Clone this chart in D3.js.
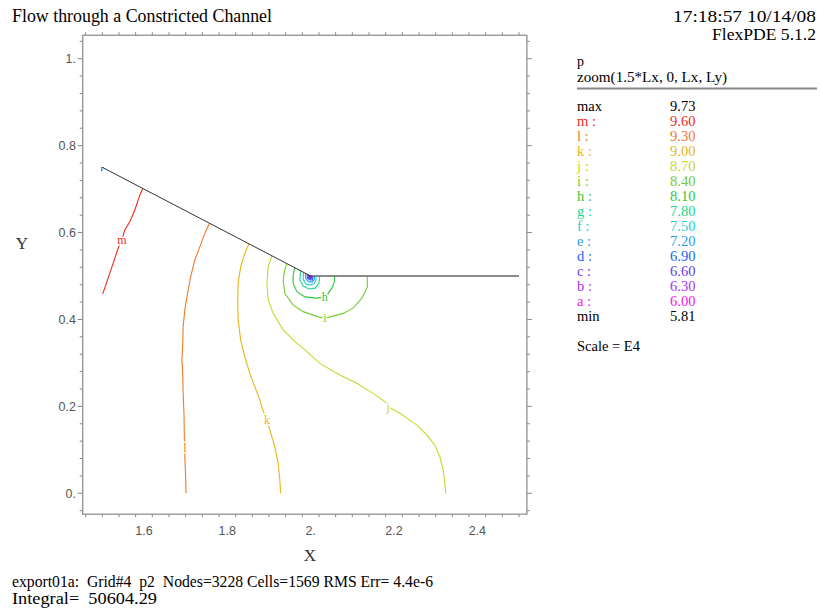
<!DOCTYPE html>
<html><head><meta charset="utf-8">
<script src="https://cdn.jsdelivr.net/npm/d3@7"></script>
<style>body{margin:0;background:#fff}svg{display:block}</style>
</head><body>
<svg id="c" width="820" height="615"></svg>
<script>
// ---------- data ----------
const levelKeys   = ["m","l","k","j","i","h","g","f","e","d","c","b","a"];
const levelValues = ["9.60","9.30","9.00","8.70","8.40","8.10","7.80","7.50","7.20","6.90","6.60","6.30","6.00"];
const levelColors = ["#f42a1c","#f07a2a","#e8b418","#c6d82a","#74cc30","#34c43a","#22d48e","#24cfd0","#2c9cf0","#2262ee","#6a3cf0","#a832f0","#f020ee"];
const maxValue = "9.73", minValue = "5.81";

const xTickValues = [1.6,1.8,2.0,2.2,2.4];
const xTickLabels = ["1.6","1.8","2.","2.2","2.4"];
const yTickValues = [0,0.2,0.4,0.6,0.8,1.0];
const yTickLabels = ["0.","0.2","0.4","0.6","0.8","1."];

const boundary = [[1.5,0.75],[2.0,0.5],[2.5,0.5]];

const contourM = [[1.597,0.7015],[1.590,0.686],[1.578,0.652],[1.566,0.625],[1.554,0.606],[1.547,0.583],[1.538,0.564],[1.526,0.529],[1.514,0.495],[1.501,0.459]];
const contourL = [[1.757,0.621],[1.746,0.598],[1.734,0.567],[1.722,0.537],[1.712,0.498],[1.703,0.452],[1.698,0.422],[1.694,0.383],[1.693,0.345],[1.691,0.307],[1.693,0.276],[1.694,0.230],[1.696,0.184],[1.697,0.123],[1.698,0.104],[1.698,0.084],[1.700,0.038],[1.701,0.0]];
const contourK = [[1.852,0.574],[1.842,0.552],[1.832,0.521],[1.826,0.483],[1.825,0.445],[1.826,0.399],[1.832,0.353],[1.842,0.314],[1.854,0.276],[1.866,0.245],[1.878,0.215],[1.885,0.192],[1.895,0.169],[1.902,0.146],[1.914,0.107],[1.922,0.069],[1.926,0.031],[1.928,0.0]];
const contourJ = [[1.907,0.5465],[1.898,0.521],[1.895,0.483],[1.898,0.445],[1.910,0.414],[1.934,0.376],[1.958,0.353],[1.991,0.326],[2.022,0.299],[2.070,0.272],[2.111,0.253],[2.150,0.230],[2.178,0.211],[2.186,0.199],[2.214,0.184],[2.231,0.173],[2.255,0.157],[2.279,0.134],[2.298,0.111],[2.310,0.084],[2.318,0.054],[2.322,0.023],[2.324,0.0]];
const contourI = [[1.943,0.5285],[1.938,0.514],[1.934,0.491],[1.938,0.460],[1.958,0.433],[1.982,0.418],[2.018,0.406],[2.034,0.403],[2.046,0.406],[2.078,0.414],[2.102,0.426],[2.123,0.449],[2.136,0.475],[2.136,0.5]];
const contourH = [[1.962,0.519],[1.958,0.502],[1.958,0.483],[1.967,0.464],[1.986,0.452],[2.015,0.449],[2.034,0.452],[2.039,0.456],[2.051,0.472],[2.057,0.487],[2.058,0.5]];
const contourG = [[1.976,0.512],[1.974,0.491],[1.982,0.477],[1.996,0.470],[2.011,0.472],[2.020,0.484],[2.022,0.5]];
const contourF = [[1.983,0.5085],[1.982,0.493],[1.988,0.482],[1.999,0.479],[2.008,0.482],[2.013,0.491],[2.013,0.5]];
const contourE = [[1.988,0.506],[1.988,0.494],[1.995,0.487],[2.003,0.486],[2.009,0.492],[2.009,0.5]];
const contourD = [[1.992,0.504],[1.992,0.495],[1.998,0.491],[2.004,0.491],[2.006,0.5]];
const contourC = [[1.994,0.503],[1.995,0.496],[1.999,0.494],[2.003,0.496],[2.004,0.5]];
const contourB = [[1.996,0.502],[1.997,0.497],[2.000,0.496],[2.002,0.5]];
const contourA = [[1.997,0.501],[1.998,0.498],[2.001,0.498],[2.001,0.5]];
const contours = [contourM,contourL,contourK,contourJ,contourI,contourH,contourG,contourF,contourE,contourD,contourC,contourB,contourA];

const contourLabels = [["m",1.547,0.583],["l",1.698,0.104],["k",1.895,0.169],["j",2.186,0.199],["i",2.034,0.403],["h",2.034,0.452]];

// ---------- drawing ----------
const svg = d3.select("#c");
const serif = "'Liberation Serif','Times New Roman',serif";
const sans = "'Liberation Sans',Arial,sans-serif";

const x = d3.scaleLinear().domain([1.5,2.5]).range([102.3,519]);
const y = d3.scaleLinear().domain([0,1]).range([493.3,58.7]);
const fx0 = x(1.453), fx1 = x(2.519), fy0 = y(1.054), fy1 = y(-0.048);

// header
svg.append("text").attr("x",12).attr("y",22).attr("font-family",serif).attr("font-size",18)
  .attr("textLength",260).attr("lengthAdjust","spacingAndGlyphs").text("Flow through a Constricted Channel");
svg.append("text").attr("x",816).attr("y",22).attr("text-anchor","end").attr("font-family",serif).attr("font-size",17)
  .attr("textLength",143).attr("lengthAdjust","spacingAndGlyphs").text("17:18:57 10/14/08");
svg.append("text").attr("x",816).attr("y",40).attr("text-anchor","end").attr("font-family",serif).attr("font-size",17)
  .attr("textLength",104).attr("lengthAdjust","spacingAndGlyphs").text("FlexPDE 5.1.2");

// frame
const g = svg.append("g");
g.append("rect").attr("x",fx0).attr("y",fy0).attr("width",fx1-fx0).attr("height",fy1-fy0)
  .attr("fill","none").attr("stroke","#888").attr("stroke-width",1.2);

const xMinor = d3.range(1.46,2.52,0.04).filter(v=>v<=2.519);
const yMinor = d3.range(-0.04,1.05,0.04).filter(v=>v<=1.054);
const isMajor = (v)=>Math.abs(v*5-Math.round(v*5))<1e-6;
xMinor.forEach(v=>{
  const L = isMajor(v)?5:3;
  g.append("line").attr("x1",x(v)).attr("x2",x(v)).attr("y1",fy1).attr("y2",fy1+L).attr("stroke","#888");
  g.append("line").attr("x1",x(v)).attr("x2",x(v)).attr("y1",fy0).attr("y2",fy0-L).attr("stroke","#888");
});
yMinor.forEach(v=>{
  const L = isMajor(v)?5:3;
  g.append("line").attr("y1",y(v)).attr("y2",y(v)).attr("x1",fx0).attr("x2",fx0-L).attr("stroke","#888");
  g.append("line").attr("y1",y(v)).attr("y2",y(v)).attr("x1",fx1).attr("x2",fx1+L).attr("stroke","#888");
});
xTickValues.forEach((v,i)=>{
  g.append("text").attr("x",x(v)).attr("y",535).attr("text-anchor","middle").attr("font-family",sans)
   .attr("font-size",12.5).attr("fill","#555").text(xTickLabels[i]);
});
yTickValues.forEach((v,i)=>{
  g.append("text").attr("x",76).attr("y",y(v)+4.5).attr("text-anchor","end").attr("font-family",sans)
   .attr("font-size",12.5).attr("fill","#555").text(yTickLabels[i]);
});
svg.append("text").attr("x",310).attr("y",561).attr("text-anchor","middle").attr("font-family",serif)
  .attr("font-size",17).attr("fill","#333").text("X");
svg.append("text").attr("x",22).attr("y",249).attr("text-anchor","middle").attr("font-family",serif)
  .attr("font-size",17).attr("fill","#333").text("Y");

// contours
const line = d3.line().x(d=>x(d[0])).y(d=>y(d[1]));
const cg = svg.append("g");
contours.forEach((c,i)=>{
  cg.append("path").attr("d",line(c)).attr("fill","none").attr("stroke",levelColors[i]).attr("stroke-width",1.1);
});
cg.append("circle").attr("cx",x(1.9995)).attr("cy",y(0.4985)).attr("r",2).attr("fill","#7a2cc8");

// boundary
cg.append("path").attr("d",line(boundary.slice(0,2))).attr("fill","none").attr("stroke","#333").attr("stroke-width",1);
cg.append("path").attr("d",line(boundary.slice(1))).attr("fill","none").attr("stroke","#666").attr("stroke-width",1.5);
cg.append("text").attr("x",x(1.5)).attr("y",y(0.75)+4).attr("text-anchor","middle").attr("font-family",serif)
  .attr("font-size",9).attr("fill","#222").text("r");

// contour labels
contourLabels.forEach(d=>{
  const i = levelKeys.indexOf(d[0]);
  cg.append("text").attr("x",x(d[1])).attr("y",y(d[2])+4).attr("text-anchor","middle").attr("font-family",serif)
    .attr("font-size",12).attr("fill",levelColors[i]).attr("stroke","#fff").attr("stroke-width",3)
    .attr("paint-order","stroke").text(d[0]);
});

// legend
const lg = svg.append("g").attr("font-family",serif);
lg.append("text").attr("x",577).attr("y",66).attr("font-size",14).text("p");
lg.append("text").attr("x",577).attr("y",81.5).attr("font-size",14).attr("textLength",150)
  .attr("lengthAdjust","spacingAndGlyphs").text("zoom(1.5*Lx, 0, Lx, Ly)");
lg.append("line").attr("x1",577).attr("x2",817).attr("y1",88.5).attr("y2",88.5).attr("stroke","#888").attr("stroke-width",2);
const row0 = 111;
lg.append("text").attr("x",577).attr("y",row0).attr("font-size",14.5).text("max");
lg.append("text").attr("x",670).attr("y",row0).attr("font-size",14.5).text(maxValue);
levelKeys.forEach((k,i)=>{
  const yy = row0 + 15*(i+1);
  lg.append("text").attr("x",577).attr("y",yy).attr("font-size",14.5).attr("fill",levelColors[i]).text(k+" :");
  lg.append("text").attr("x",670).attr("y",yy).attr("font-size",14.5).attr("fill",levelColors[i]).text(levelValues[i]);
});
lg.append("text").attr("x",577).attr("y",row0+15*14).attr("font-size",14.5).text("min");
lg.append("text").attr("x",670).attr("y",row0+15*14).attr("font-size",14.5).text(minValue);
lg.append("text").attr("x",577).attr("y",351).attr("font-size",14.5).text("Scale = E4");

// footer
svg.append("text").attr("x",12).attr("y",587).attr("font-family",serif).attr("font-size",16)
  .style("white-space","pre")
  .attr("textLength",421).attr("lengthAdjust","spacingAndGlyphs")
  .text("export01a:  Grid#4  p2  Nodes=3228 Cells=1569 RMS Err= 4.4e-6");
svg.append("text").attr("x",12).attr("y",604).attr("font-family",serif).attr("font-size",16)
  .style("white-space","pre")
  .attr("textLength",145).attr("lengthAdjust","spacingAndGlyphs")
  .text("Integral=  50604.29");
</script>
</body></html>
